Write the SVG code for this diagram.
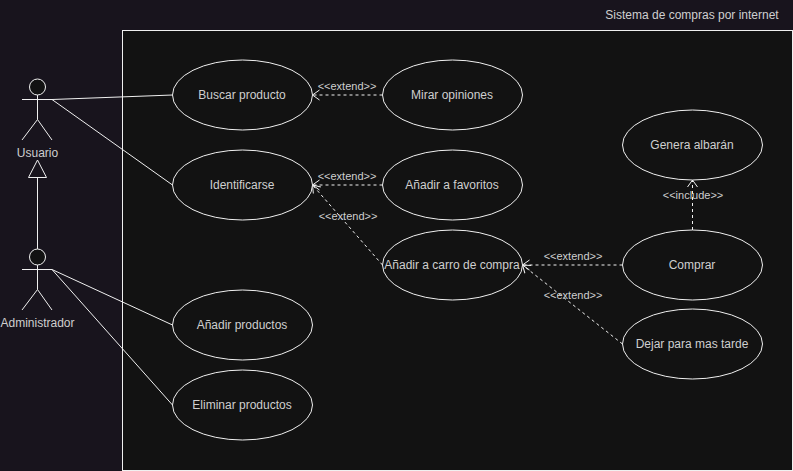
<svg xmlns="http://www.w3.org/2000/svg" width="793" height="471" viewBox="0 0 793 471">
<style>
text{font-family:"Liberation Sans",Arial,sans-serif;font-size:12px;fill:#cfcfcf;text-anchor:middle}
.lab{font-size:11px}
.n ellipse{fill:#121212;stroke:#f0f0f0;stroke-width:1}
.a path,.a circle{fill:none;stroke:#f0f0f0;stroke-width:1}
.a circle{fill:#121212}
.c path{fill:none;stroke:#f0f0f0;stroke-width:1}
.d{stroke-dasharray:3 3;marker-end:url(#open)}
</style>
<defs>
<marker id="open" markerUnits="userSpaceOnUse" viewBox="0 0 9 12" refX="8" refY="6" markerWidth="9" markerHeight="12" orient="auto"><path d="M1 1 L8 6 L1 11" fill="none" stroke="#f0f0f0" stroke-width="1"/></marker>
</defs>
<rect width="793" height="471" fill="#18141d"/>
<g id="system"><rect x="122.5" y="30.5" width="670" height="440" fill="#121212" stroke="#f0f0f0"/>
<text x="692" y="19">Sistema de compras por internet</text></g>
<g id="connectors" class="c">
<path d="M52 99.5L172.500 95"/>
<path d="M52 99.500L172.500 185"/>
<path d="M52 269.500L172.500 325"/>
<path d="M52 269.500L172.500 405"/>
<path d="M37.500 249V177.500"/>
<path d="M37.500 160L46.500 177.500H28.500Z"/>
<path class="d" d="M382.500 95H312.500"/>
<path class="d" d="M382.500 185H312.500"/>
<path class="d" d="M382.500 265L312.500 185"/>
<path class="d" d="M622.500 265H522.500"/>
<path class="d" d="M622.500 344L522.500 265"/>
<path class="d" d="M692.500 230V180"/>
<text class="lab" x="347" y="90">&lt;&lt;extend&gt;&gt;</text>
<text class="lab" x="347" y="180">&lt;&lt;extend&gt;&gt;</text>
<text class="lab" x="348" y="220">&lt;&lt;extend&gt;&gt;</text>
<text class="lab" x="573" y="260">&lt;&lt;extend&gt;&gt;</text>
<text class="lab" x="573" y="299">&lt;&lt;extend&gt;&gt;</text>
<text class="lab" x="693" y="199">&lt;&lt;include&gt;&gt;</text>
</g>
<g id="usuario" class="a"><circle cx="37.500" cy="87" r="8"/><path d="M37.500 95V119.500M22 99.500H52M22 140L37.500 119.500L52 140"/><text x="37.500" y="157">Usuario</text></g>
<g id="administrador" class="a"><circle cx="37.500" cy="257" r="8"/><path d="M37.500 265V289.500M22 269.500H52M22 310L37.500 289.500L52 310"/><text x="37.500" y="327">Administrador</text></g>
<g id="buscar" class="n"><ellipse cx="242.500" cy="95" rx="70" ry="35"/><text x="242" y="99">Buscar producto</text></g>
<g id="mirar" class="n"><ellipse cx="452.500" cy="95" rx="70" ry="35"/><text x="452" y="99">Mirar opiniones</text></g>
<g id="identificarse" class="n"><ellipse cx="242.500" cy="185" rx="70" ry="35"/><text x="242" y="189">Identificarse</text></g>
<g id="favoritos" class="n"><ellipse cx="452.500" cy="185" rx="70" ry="35"/><text x="452" y="189">Añadir a favoritos</text></g>
<g id="carro" class="n"><ellipse cx="452.500" cy="265" rx="70" ry="35"/><text x="452" y="269">Añadir a carro de compra</text></g>
<g id="anadir" class="n"><ellipse cx="242.500" cy="325" rx="70" ry="35"/><text x="242" y="329">Añadir productos</text></g>
<g id="eliminar" class="n"><ellipse cx="242.500" cy="405" rx="70" ry="35"/><text x="242" y="409">Eliminar productos</text></g>
<g id="genera" class="n"><ellipse cx="692.500" cy="145" rx="70" ry="35"/><text x="692" y="149">Genera albarán</text></g>
<g id="comprar" class="n"><ellipse cx="692.500" cy="265" rx="70" ry="35"/><text x="692" y="269">Comprar</text></g>
<g id="dejar" class="n"><ellipse cx="692.500" cy="344" rx="70" ry="35"/><text x="692" y="348">Dejar para mas tarde</text></g>
</svg>
